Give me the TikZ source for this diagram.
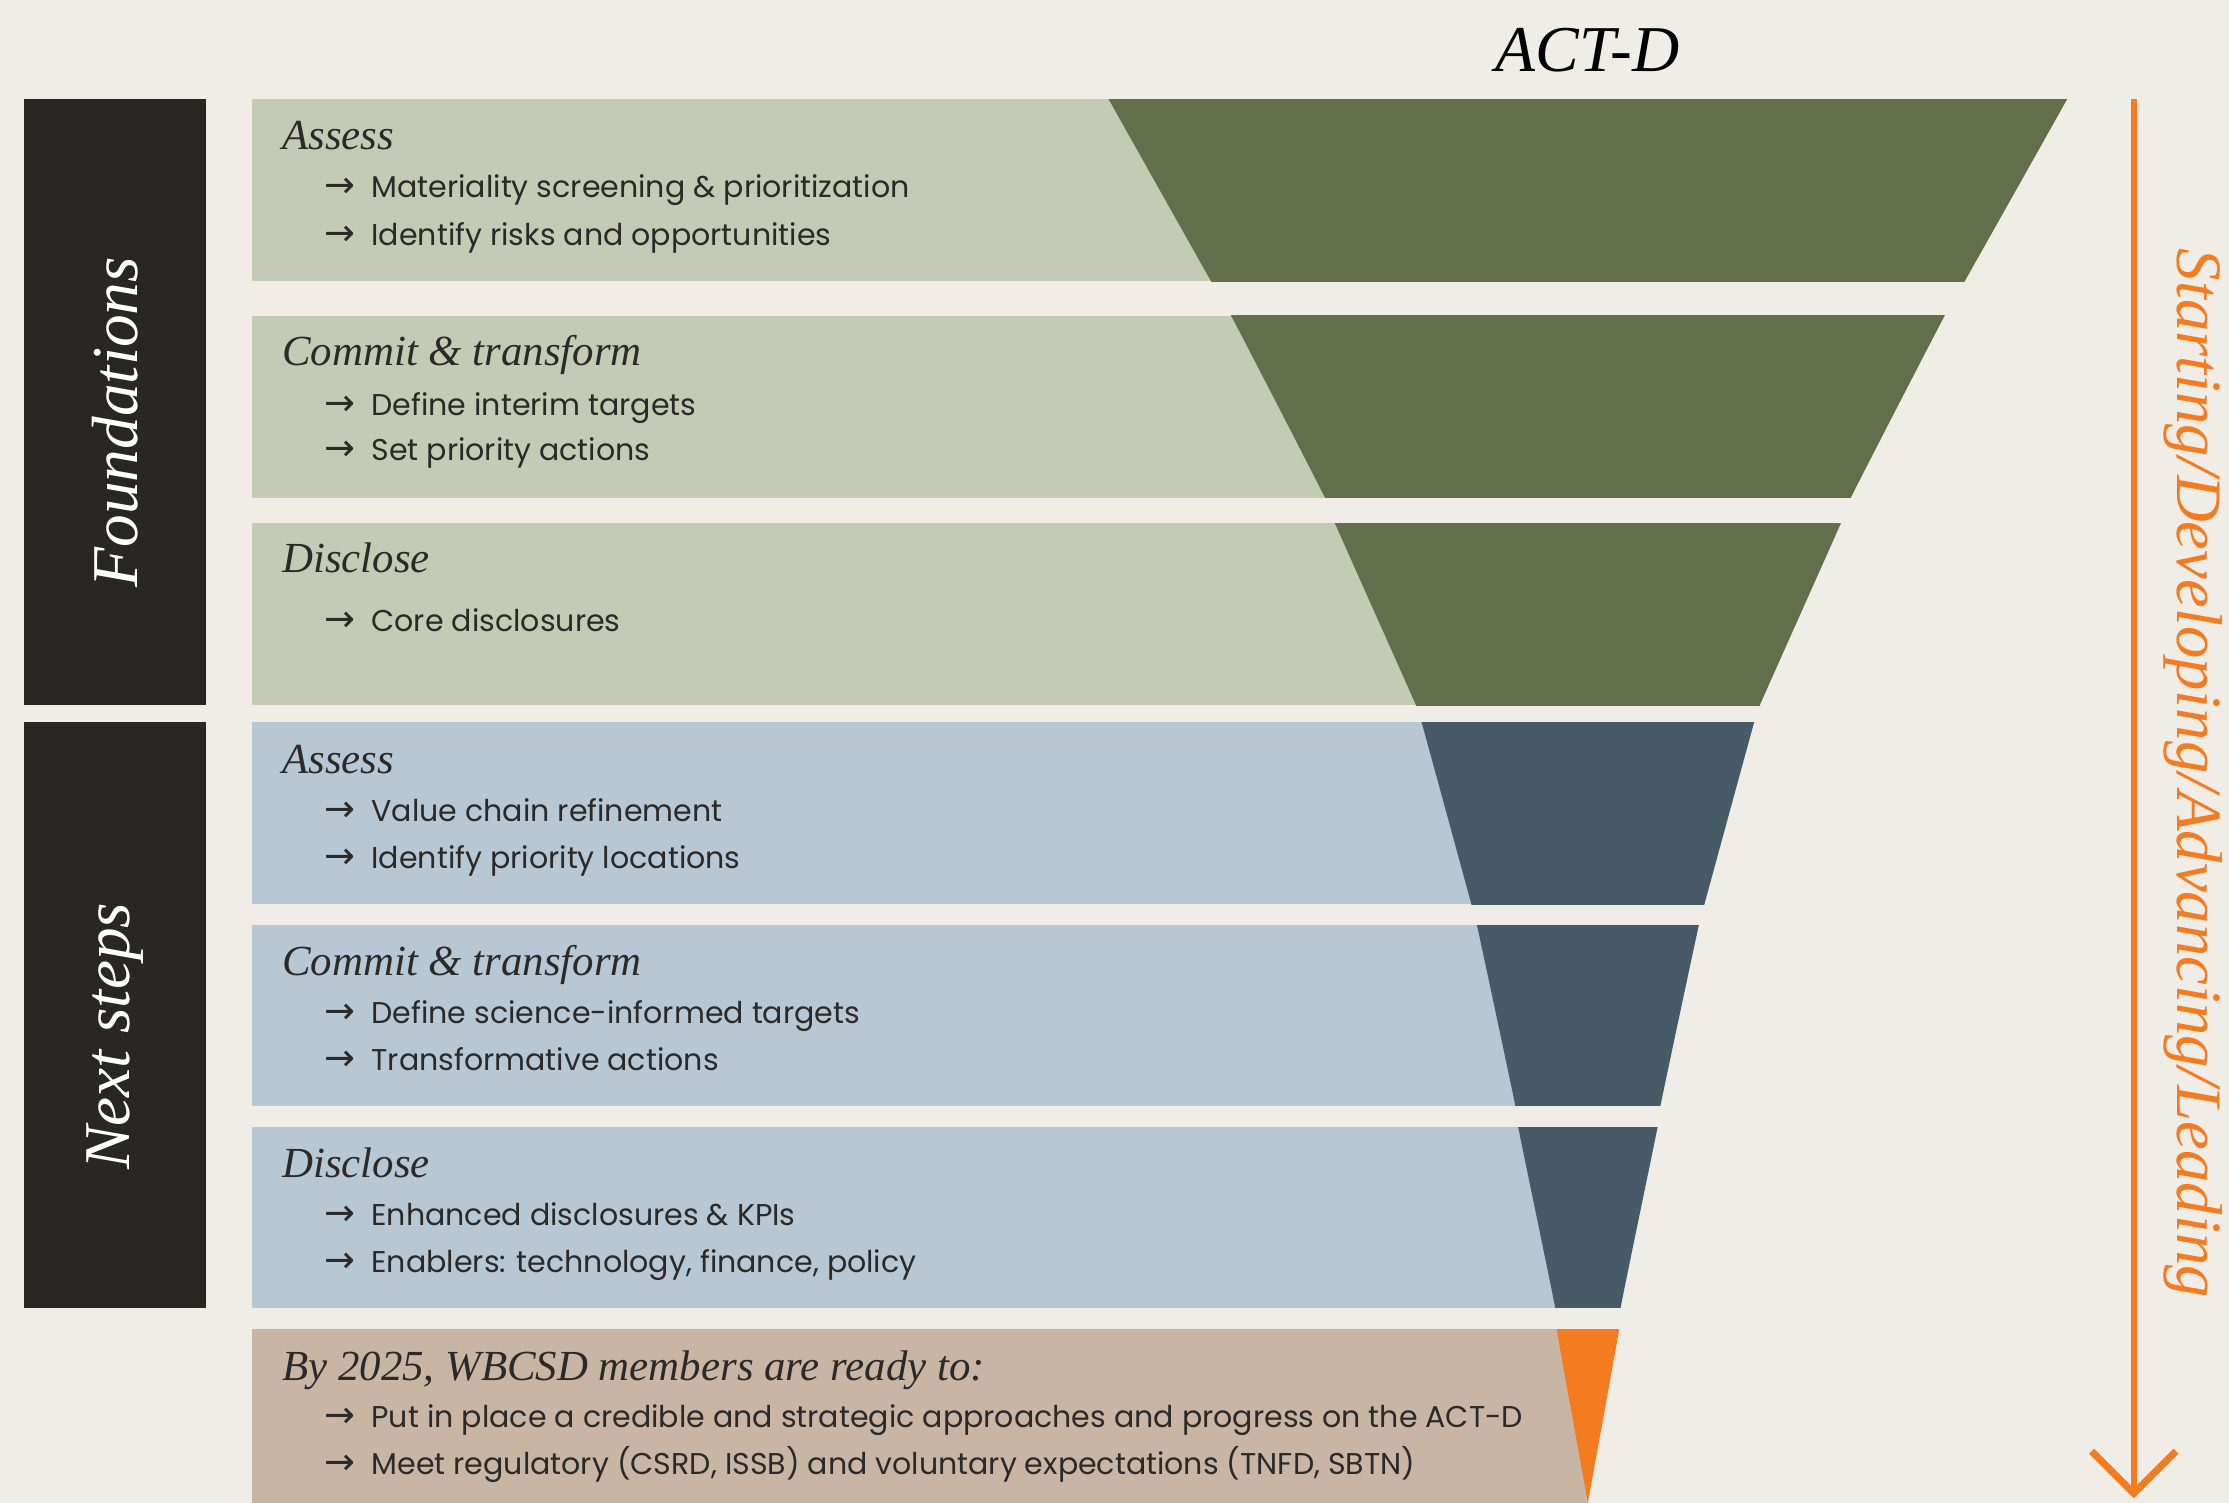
\documentclass[tikz,border=0pt]{standalone}
\usepackage{fontspec}
\setmainfont{Liberation Serif}
\newfontfamily\bodyfont{Poppins}
\newfontfamily\arrowfont{DejaVu Sans}
\usepackage{tikz}
\usetikzlibrary{arrows.meta, calc}
\definecolor{colBg}{RGB}{240, 237, 230}
\definecolor{colDark}{RGB}{41, 39, 35}
\definecolor{colText}{RGB}{43, 42, 40}
\definecolor{colGreenL}{RGB}{195, 203, 181}
\definecolor{colGreenD}{RGB}{97, 111, 75}
\definecolor{colBlueL}{RGB}{184, 199, 212}
\definecolor{colBlueD}{RGB}{70, 91, 103}
\definecolor{colSand}{RGB}{201, 181, 164}
\definecolor{colOrange}{RGB}{244, 123, 32}
\newcommand{\actitem}[1]{{\arrowfont\fontsize{10.5}{10}\selectfont\char"2192}\hspace{4.5pt}#1}

\begin{document}
\begin{tikzpicture}[x=0.14216mm, y=-0.14216mm,
    heading/.style={anchor=base west, inner sep=0pt, text=colText, font=\itshape\fontsize{12.2}{14}\selectfont},
    bullet/.style={anchor=base west, inner sep=0pt, text=colText, font=\bodyfont\fontsize{8.55}{10}\selectfont},
    sidebar/.style={rotate=90, inner sep=0pt, text=white, font=\itshape\fontsize{18.6}{20}\selectfont}]
    \useasboundingbox (0,0) rectangle (1568,1057);
    \fill[colBg] (0,0) rectangle (1568,1057);

    % --- Baender mit Trichter ---
    \foreach \ya/\yb/\light/\dark in {70/198/colGreenL/colGreenD, 222/350/colGreenL/colGreenD,
        368/496/colGreenL/colGreenD, 508/636/colBlueL/colBlueD, 651/778/colBlueL/colBlueD,
        793/920/colBlueL/colBlueD, 935/1057/colSand/colOrange} {
        \fill[\light] (177,\ya) rectangle (1117,\yb);
        \begin{scope}
            \clip (177,\ya) rectangle (1568,\yb);
            % linke und rechte Haelfte
            \foreach \s in {1,-1}
                \fill[\dark, shift={(1117,0)}, xscale=\s] (0,55) -- plot[smooth] coordinates {
                    (-345,55) (-337,70) (-265,198) (-251,222) (-185,350) (-178,368) (-121,496)
                    (-117,508) (-82,636) (-78,651) (-51,778) (-49,793) (-23,920) (-22,935) (0,1057)} -- cycle;
        \end{scope}
    }

    % --- Seitenleisten ---
    \fill[colDark] (17,70) rectangle (145,496);
    \fill[colDark] (17,508) rectangle (145,920);
    \node[sidebar] (found) at (81,297) {Foundations};
    \node[sidebar] (next) at (81,729) {Next steps};

    % --- Titel ---
    \node[font=\itshape\fontsize{18.6}{20}\selectfont] (actd) at (1117,35) {ACT-D};

    % --- Foundations ---
    \node[heading] (f-assess) at (198,105) {Assess};
    \node[bullet] (f-assess-1) at (228,139) {\actitem{Materiality screening \& prioritization}};
    \node[bullet] (f-assess-2) at (228,173) {\actitem{Identify risks and opportunities}};
    \node[heading] (f-commit) at (198,257) {Commit \& transform};
    \node[bullet] (f-commit-1) at (228,292) {\actitem{Define interim targets}};
    \node[bullet] (f-commit-2) at (228,324) {\actitem{Set priority actions}};
    \node[heading] (f-disclose) at (198,403) {Disclose};
    \node[bullet] (f-disclose-1) at (228,444) {\actitem{Core disclosures}};

    % --- Next steps ---
    \node[heading] (n-assess) at (198,544) {Assess};
    \node[bullet] (n-assess-1) at (228,578) {\actitem{Value chain refinement}};
    \node[bullet] (n-assess-2) at (228,611) {\actitem{Identify priority locations}};
    \node[heading] (n-commit) at (198,686) {Commit \& transform};
    \node[bullet] (n-commit-1) at (228,720) {\actitem{Define science-informed targets}};
    \node[bullet] (n-commit-2) at (228,753) {\actitem{Transformative actions}};
    \node[heading] (n-disclose) at (198,828) {Disclose};
    \node[bullet] (n-disclose-1) at (228,862) {\actitem{Enhanced disclosures \& KPIs}};
    \node[bullet] (n-disclose-2) at (228,895) {\actitem{Enablers: technology, finance, policy}};

    % --- Ziel 2025 ---
    \node[heading] (goal) at (198,971) {By 2025, WBCSD members are ready to:};
    \node[bullet] (goal-1) at (228,1004) {\actitem{Put in place a credible and strategic approaches and progress on the ACT-D}};
    \node[bullet] (goal-2) at (228,1037) {\actitem{Meet regulatory (CSRD, ISSB) and voluntary expectations (TNFD, SBTN)}};

    % --- Pfeil rechts ---
    \coordinate (arrTop) at (1501,70);
    \coordinate (arrEnd) at (1501,1054);
    \draw[colOrange, line width=1.8pt, -{Straight Barb[length=12pt, width=24pt, line width=2pt]}] (arrTop) -- (arrEnd);
    \node[rotate=-90, text=colOrange, font=\itshape\fontsize{18.4}{20}\selectfont] (stages) at (1543,544) {Starting/Developing/Advancing/Leading};
\end{tikzpicture}
\end{document}
